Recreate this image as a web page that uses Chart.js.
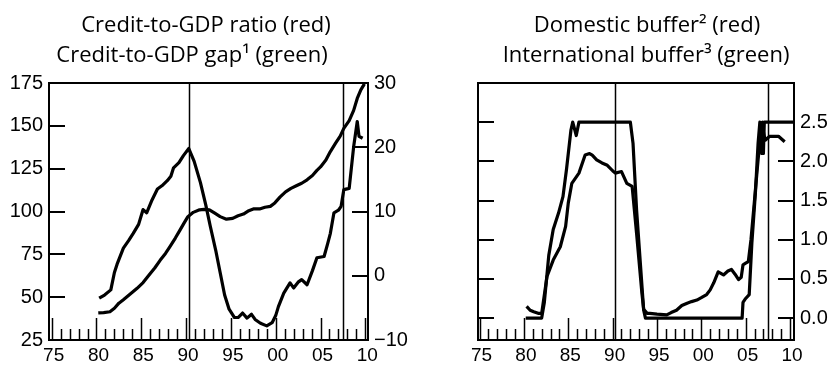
<!DOCTYPE html>
<html>
<head>
<meta charset="utf-8">
<title>Credit-to-GDP ratio, gap and buffers</title>
<script src="https://cdn.jsdelivr.net/npm/chart.js@4.4.1/dist/chart.umd.min.js"></script>
<style>
  html, body { margin: 0; padding: 0; background: #fff; }
  #wrap { position: relative; width: 831px; height: 367px; overflow: hidden; }
  canvas { position: absolute; top: 0; }
  .title {
    position: absolute;
    transform: translateX(-50%);
    white-space: nowrap;
    font-family: 'Open Sans', sans-serif;
    font-size: 22px;
    line-height: 30px;
    color: #000;
  }
</style>
</head>
<body>
<div id="wrap">
  <canvas id="credit-chart" width="415" height="367" style="left:0"></canvas>
  <canvas id="buffer-chart" width="416" height="367" style="left:415px"></canvas>
  <div class="title" style="left:206px; top:8px">Credit-to-GDP ratio (red)</div>
  <div class="title" style="left:192px; top:38px">Credit-to-GDP gap¹ (green)</div>
  <div class="title" style="left:647px; top:8px">Domestic buffer² (red)</div>
  <div class="title" style="left:646px; top:38px">International buffer³ (green)</div>
</div>
<script>
// x axis: years, labelled every five years
const xTickYears = [1975, 1980, 1985, 1990, 1995, 2000, 2005, 2010];
const xTickLabels = ['75', '80', '85', '90', '95', '00', '05', '10'];
const crisisYears = [1990.3, 2007.5];

// left panel, left axis: credit-to-GDP ratio
const ratioTicks = [25, 50, 75, 100, 125, 150, 175];
const ratioTickLabels = ['25', '50', '75', '100', '125', '150', '175'];
const ratioYears = [1980.2, 1980.8, 1981.5, 1982.0, 1982.5, 1983.0, 1983.7, 1984.5, 1985.2, 1985.8,
  1986.5, 1987.1, 1987.7, 1988.2, 1988.8, 1989.3, 1989.8, 1990.2, 1990.8, 1991.5,
  1992.0, 1992.6, 1993.2, 1993.8, 1994.5, 1995.2, 1995.8, 1996.4, 1997.0, 1997.5,
  1998.2, 1998.8, 1999.4, 1999.9, 2000.5, 2001.1, 2001.7, 2002.3, 2002.9, 2003.5,
  2004.1, 2004.6, 2005.0, 2005.6, 2006.1, 2006.7, 2007.2, 2007.6, 2008.2, 2008.7,
  2009.1, 2009.5, 2009.9];
const ratioValues = [40.8, 41, 41.5, 43.5, 46.5, 48.5, 51.5, 55, 58.5, 62.5,
  67, 71.5, 75.5, 79.5, 84.5, 89, 93.5, 97, 99.5, 101,
  101.2, 101, 99, 97, 95.5, 96, 97.5, 98.5, 100.5, 101.5,
  101.5, 102.5, 103, 105, 108.5, 111.5, 113.5, 115, 116.5, 118.5,
  121, 124, 126, 130, 135, 140, 144, 148.5, 153, 159,
  166, 171, 174.5];

// left panel, right axis: credit-to-GDP gap
const gapTicks = [-10, 0, 10, 20, 30];
const gapTickLabels = ['\u221210', '0', '10', '20', '30'];
const gapYears = [1980.3, 1980.9, 1981.6, 1982.0, 1982.3, 1983.0, 1983.6, 1984.1, 1984.7, 1985.2,
  1985.6, 1986.2, 1986.8, 1987.3, 1987.9, 1988.3, 1988.6, 1989.2, 1989.7, 1990.3,
  1990.9, 1991.6, 1992.2, 1992.7, 1993.3, 1993.8, 1994.3, 1994.8, 1995.4, 1995.8,
  1996.3, 1996.8, 1997.3, 1997.7, 1998.3, 1999.0, 1999.6, 2000.0, 2000.3, 2000.9,
  2001.6, 2002.0, 2002.5, 2002.9, 2003.5, 2004.1, 2004.6, 2005.4, 2005.8, 2006.1,
  2006.5, 2007.0, 2007.3, 2007.6, 2008.2, 2008.7, 2009.1, 2009.3, 2009.7];
const gapValues = [-3.5, -3.0, -2.2, 0.5, 1.8, 4.3, 5.5, 6.6, 8.0, 10.3,
  9.8, 11.8, 13.5, 14.0, 14.8, 15.5, 16.8, 17.6, 18.7, 19.8,
  17.8, 14.5, 11, 7.7, 4, 0.5, -3, -5.2, -6.5, -6.5,
  -5.8, -6.6, -6.0, -6.8, -7.4, -7.8, -7.3, -6.2, -4.8, -2.7,
  -1.1, -1.9, -1.0, -0.6, -1.4, 0.8, 2.8, 3.0, 5.0, 6.6,
  9.8, 10.2, 10.8, 13.4, 13.6, 20.1, 24.0, 21.7, 21.4];

// right panel: countercyclical buffers
const bufferTicks = [0, 0.5, 1, 1.5, 2, 2.5];
const bufferTickLabels = ['0.0', '0.5', '1.0', '1.5', '2.0', '2.5'];
const domesticYears = [1980.2, 1982.0, 1982.3, 1982.8, 1983.3, 1983.9, 1984.4, 1984.8, 1985.3, 1985.5,
  1985.9, 1986.2, 1992.0, 1992.3, 1992.7, 1993.1, 1993.5, 1993.7, 2004.6, 2004.7,
  2005.0, 2005.4, 2005.7, 2006.1, 2006.4, 2006.6, 2006.8, 2006.9, 2007.0, 2007.1,
  2010.4];
const domesticValues = [0, 0, 0.2, 0.8, 1.13, 1.34, 1.55, 1.9, 2.4, 2.5,
  2.33, 2.5, 2.5, 2.23, 1.38, 0.74, 0.1, 0, 0, 0.2,
  0.25, 0.3, 0.96, 1.6, 2.23, 2.5, 2.1, 2.5, 2.1, 2.5,
  2.5];
const internationalYears = [1980.3, 1980.7, 1981.1, 1981.6, 1982.0, 1982.6, 1983.3, 1984.1, 1984.7, 1985.0,
  1985.4, 1986.2, 1986.9, 1987.4, 1987.7, 1988.2, 1988.8, 1989.4, 1990.0, 1990.3,
  1991.0, 1991.6, 1992.2, 1992.7, 1993.3, 1993.5, 1993.9, 1994.2, 1995.0, 1996.1,
  1996.6, 1997.2, 1997.8, 1998.4, 1998.9, 1999.5, 2000.0, 2000.6, 2001.0, 2001.4,
  2001.9, 2002.5, 2003.0, 2003.4, 2003.8, 2004.2, 2004.5, 2004.7, 2005.0, 2005.3,
  2005.6, 2005.9, 2006.4, 2006.8, 2007.2, 2007.7, 2008.7, 2009.4];
const internationalValues = [0.15, 0.1, 0.08, 0.06, 0.06, 0.53, 0.74, 0.91, 1.17, 1.47,
  1.72, 1.85, 2.08, 2.1, 2.08, 2.02, 1.98, 1.95, 1.88, 1.85,
  1.87, 1.72, 1.68, 1.08, 0.32, 0.11, 0.06, 0.06, 0.05, 0.04,
  0.07, 0.1, 0.16, 0.19, 0.21, 0.23, 0.26, 0.3, 0.36, 0.45,
  0.59, 0.55, 0.6, 0.62, 0.56, 0.49, 0.52, 0.68, 0.7, 0.72,
  1.0, 1.38, 2.02, 2.49, 2.27, 2.32, 2.32, 2.25];

const yTickFont = { family: "'Liberation Sans', Arial, sans-serif", size: 20 };
const xTickFont = { family: "'Liberation Sans', Arial, sans-serif", size: 19 };

function toPoints(xs, ys) {
  return xs.map((x, i) => ({ x: x, y: ys[i] }));
}

function lineDataset(label, xs, ys, axisId) {
  return {
    label: label,
    data: toPoints(xs, ys),
    yAxisID: axisId,
    borderColor: '#000',
    borderWidth: 3.2,
    borderJoinStyle: 'round',
    pointRadius: 0,
    tension: 0
  };
}

// shared x axis, labels only every five years
function yearAxis(min, max) {
  return {
    type: 'linear',
    min: min,
    max: max,
    grid: { display: false, drawTicks: false, tickLength: 0 },
    border: { display: false },
    afterBuildTicks: scale => { scale.ticks = xTickYears.map(v => ({ value: v })); },
    afterFit: scale => { scale.height = 27; },
    ticks: {
      autoSkip: false,
      maxRotation: 0,
      padding: 4,
      labelOffset: 2,
      color: '#000',
      font: xTickFont,
      callback: (v, i) => xTickLabels[i]
    }
  };
}

function valueAxis(position, min, max, ticks, labels, width) {
  return {
    type: 'linear',
    position: position,
    min: min,
    max: max,
    grid: { display: false, drawTicks: false, tickLength: 0 },
    border: { display: false },
    afterBuildTicks: scale => { scale.ticks = ticks.map(v => ({ value: v })); },
    afterFit: scale => { scale.width = width; },
    ticks: {
      padding: 6,
      color: '#000',
      font: yTickFont,
      callback: (v, i) => labels[i]
    }
  };
}

// box, event lines and inward tick marks
const framePlugin = {
  id: 'frame',
  afterDatasetsDraw(chart, args, opts) {
    const { ctx, chartArea: a, scales } = chart;
    const x = scales.x;
    const seg = (x1, y1, x2, y2) => {
      ctx.beginPath();
      ctx.moveTo(x1, y1);
      ctx.lineTo(x2, y2);
      ctx.stroke();
    };
    ctx.save();
    ctx.strokeStyle = '#000';

    ctx.lineWidth = 1.5;
    crisisYears.forEach(yr => {
      const px = Math.round(x.getPixelForValue(yr)) + 0.5;
      seg(px, a.top, px, a.bottom);
    });

    ctx.lineWidth = 1.5;
    for (let yr = 1975; yr <= 2010; yr++) {
      const px = Math.round(x.getPixelForValue(yr)) + 0.5;
      const len = yr % 5 === 0 ? 22 : 11;
      seg(px, a.bottom, px, a.bottom - len);
    }

    ctx.lineWidth = 2;
    opts.sideTicks.forEach(t => {
      const scale = scales[t.axis];
      t.values.forEach(v => {
        const py = Math.round(scale.getPixelForValue(v));
        if (t.side === 'left') seg(a.left, py, a.left + 16, py);
        else seg(a.right - 16, py, a.right, py);
      });
    });

    ctx.lineWidth = 2;
    ctx.strokeRect(a.left, a.top, a.right - a.left, a.bottom - a.top);
    ctx.restore();
  }
};

const creditChart = new Chart(document.getElementById('credit-chart'), {
  type: 'line',
  data: {
    datasets: [
      lineDataset('Credit-to-GDP ratio', ratioYears, ratioValues, 'y'),
      lineDataset('Credit-to-GDP gap', gapYears, gapValues, 'y2')
    ]
  },
  options: {
    responsive: false,
    animation: false,
    layout: { padding: { top: 83, left: 0, right: 0, bottom: 0 } },
    plugins: {
      legend: { display: false },
      tooltip: { enabled: false },
      frame: {
        sideTicks: [
          { axis: 'y', side: 'left', values: [50, 75, 100, 125, 150] },
          { axis: 'y2', side: 'right', values: [0, 10, 20] }
        ]
      }
    },
    scales: {
      x: yearAxis(1974.7, 2010.3),
      y: valueAxis('left', 25, 175, ratioTicks, ratioTickLabels, 49),
      y2: valueAxis('right', -10, 30, gapTicks, gapTickLabels, 47)
    }
  },
  plugins: [framePlugin]
});

const bufferChart = new Chart(document.getElementById('buffer-chart'), {
  type: 'line',
  data: {
    datasets: [
      lineDataset('Domestic buffer', domesticYears, domesticValues, 'y'),
      lineDataset('International buffer', internationalYears, internationalValues, 'y')
    ]
  },
  options: {
    responsive: false,
    animation: false,
    layout: { padding: { top: 83, left: 63, right: 0, bottom: 0 } },
    plugins: {
      legend: { display: false },
      tooltip: { enabled: false },
      frame: {
        sideTicks: [
          { axis: 'y', side: 'left', values: bufferTicks },
          { axis: 'y', side: 'right', values: bufferTicks }
        ]
      }
    },
    scales: {
      x: yearAxis(1974.82, 2010.45),
      y: valueAxis('right', -0.28, 3.0, bufferTicks, bufferTickLabels, 37)
    }
  },
  plugins: [framePlugin]
});
</script>
</body>
</html>
